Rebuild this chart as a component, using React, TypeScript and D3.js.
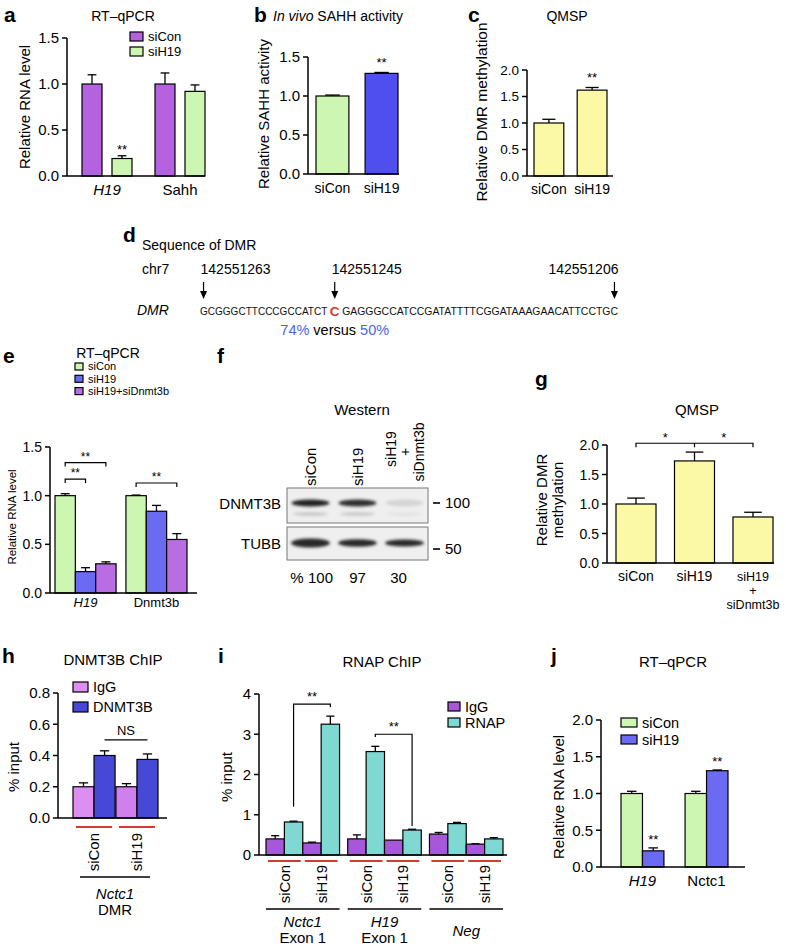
import React from "react";
import * as d3 from "d3";

const FONT = "'Liberation Sans', Arial, Helvetica, sans-serif";

// ---------- Panel a ----------
const aGroups = ["H19", "Sahh"];
const aSeries = ["siCon", "siH19"];
const aValues = [[1.0, 0.19], [1.0, 0.92]];
const aErrors = [[0.1, 0.03], [0.12, 0.07]];
const aTicks = [0, 0.5, 1.0, 1.5];

// ---------- Panel b ----------
const bCats = ["siCon", "siH19"];
const bValues = [1.0, 1.29];
const bErrors = [0.012, 0.012];
const bTicks = [0, 0.5, 1.0, 1.5];

// ---------- Panel c ----------
const cCats = ["siCon", "siH19"];
const cValues = [1.0, 1.62];
const cErrors = [0.07, 0.05];
const cTicks = [0, 0.5, 1.0, 1.5, 2.0];

// ---------- Panel d ----------
const dSeqLeft = "GCGGGCTTCCCGCCATCT";
const dSeqC = "C";
const dSeqRight = "GAGGGCCATCCGATATTTTCGGATAAAGAACATTCCTGC";
const dPositions = ["142551263", "142551245", "142551206"];
const dPercents = ["74%", "50%"];

// ---------- Panel e ----------
const eGroups = ["H19", "Dnmt3b"];
const eSeries = ["siCon", "siH19", "siH19+siDnmt3b"];
const eValues = [[1.0, 0.22, 0.30], [1.0, 0.84, 0.55]];
const eErrors = [[0.02, 0.04, 0.02], [0.006, 0.06, 0.06]];
const eTicks = [0, 0.5, 1.0, 1.5];
const eBrackets = [
  { g: 0, from: 0, to: 2, level: 1.34 },
  { g: 0, from: 0, to: 1, level: 1.17 },
  { g: 1, from: 0, to: 2, level: 1.13 },
];

// ---------- Panel f ----------
const fLanes = ["siCon", "siH19", "combo"];
const fDnmt3bBand = [1.0, 0.97, 0.3];
const fTubbBand = [1.0, 0.85, 0.8];
const fPercent = [100, 97, 30];
const fMarkers = ["100", "50"];

// ---------- Panel g ----------
const gCats = ["siCon", "siH19", "combo"];
const gValues = [1.0, 1.73, 0.78];
const gErrors = [0.1, 0.15, 0.08];
const gTicks = [0, 0.5, 1.0, 1.5, 2.0];

// ---------- Panel h ----------
const hGroups = ["siCon", "siH19"];
const hSeries = ["IgG", "DNMT3B"];
const hValues = [[0.2, 0.4], [0.2, 0.375]];
const hErrors = [[0.025, 0.03], [0.02, 0.035]];
const hTicks = [0, 0.2, 0.4, 0.6, 0.8];

// ---------- Panel i ----------
const iRegions = ["Nctc1", "H19", "Neg"];
const iConds = ["siCon", "siH19"];
const iSeries = ["IgG", "RNAP"];
const iValues = [
  [[0.4, 0.82], [0.3, 3.25]],
  [[0.4, 2.57], [0.37, 0.62]],
  [[0.52, 0.78], [0.27, 0.4]],
];
const iErrors = [
  [[0.08, 0.02], [0.02, 0.2]],
  [[0.1, 0.13], [0.0, 0.02]],
  [[0.04, 0.03], [0.01, 0.03]],
];
const iTicks = [0, 1, 2, 3, 4];

// ---------- Panel j ----------
const jGroups = ["H19", "Nctc1"];
const jSeries = ["siCon", "siH19"];
const jValues = [[1.0, 0.22], [1.0, 1.31]];
const jErrors = [[0.03, 0.04], [0.03, 0.01]];
const jTicks = [0, 0.5, 1.0, 1.5, 2.0];

// ---------- colours ----------
const GREEN = "#ccf6b2";
const PURPLE = "#b462e0";
const BLUE = "#4f4ff0";
const BLUE2 = "#6a6af2";
const YELLOW = "#fcf9a6";
const PINK = "#dc8ff0";
const DBLUE = "#4848d6";
const IPURPLE = "#a658d8";
const TEAL = "#80d8d2";
const RED = "#d23a32";

const f1 = d3.format(".1f");
const f0 = d3.format("d");

function YAxis({ x, y, ticks, fmt, fs = 14, len = 5 }) {
  const [d0, d1] = y.domain();
  return (
    <g>
      <line x1={x} x2={x} y1={y(d0)} y2={y(d1)} stroke="#000" strokeWidth={1.5} />
      {ticks.map((t) => (
        <g key={t}>
          <line x1={x - len} x2={x} y1={y(t)} y2={y(t)} stroke="#000" strokeWidth={1.5} />
          <text x={x - len - 3} y={y(t)} dy="0.36em" textAnchor="end" fontSize={fs}>
            {fmt(t)}
          </text>
        </g>
      ))}
    </g>
  );
}

function XLine({ x1, x2, y }) {
  return <line x1={x1} x2={x2} y1={y} y2={y} stroke="#000" strokeWidth={1.5} />;
}

function Bar({ x, w, y, v, e, fill }) {
  const top = y(v);
  const base = y(0);
  const et = y(v + e);
  const cx = x + w / 2;
  const cw = w * 0.22;
  return (
    <g>
      {e > 0 && (
        <g stroke="#000" strokeWidth={1.3}>
          <line x1={cx} x2={cx} y1={top} y2={et} />
          <line x1={cx - cw} x2={cx + cw} y1={et} y2={et} />
        </g>
      )}
      <rect x={x} y={top} width={w} height={base - top} fill={fill} stroke="#000" strokeWidth={1.2} />
    </g>
  );
}

function Legend({ x, y, items, colors, w, h, gap, fs }) {
  return (
    <g>
      {items.map((it, i) => (
        <g key={it}>
          <rect x={x} y={y + i * gap} width={w} height={h} fill={colors[i]} stroke="#000" strokeWidth={1.2} />
          <text x={x + w + 5} y={y + i * gap + h / 2} dy="0.36em" fontSize={fs}>
            {it}
          </text>
        </g>
      ))}
    </g>
  );
}

function RotLabel({ x, y, children, fs = 14, anchor = "middle", italic = false }) {
  return (
    <text
      transform={`translate(${x},${y}) rotate(-90)`}
      textAnchor={anchor}
      dy="0.36em"
      fontSize={fs}
      fontStyle={italic ? "italic" : "normal"}
    >
      {children}
    </text>
  );
}

function Letter({ x, y, c }) {
  return (
    <text x={x} y={y} fontSize={21} fontWeight="bold">
      {c}
    </text>
  );
}

function Stars({ x, y, s = "**", fs = 13 }) {
  return (
    <text x={x} y={y} textAnchor="middle" fontSize={fs}>
      {s}
    </text>
  );
}

function PanelA() {
  const y = d3.scaleLinear([0, 1.5], [176, 38]);
  const gx = d3.scaleBand(aGroups, [82, 205]).paddingInner(0.315);
  const sx = d3.scaleBand(aSeries, [0, gx.bandwidth()]).paddingInner(0.333);
  const colors = [PURPLE, GREEN];
  return (
    <g>
      <Letter x={4} y={22} c="a" />
      <text x={123} y={21} textAnchor="middle" fontSize={14}>RT–qPCR</text>
      <RotLabel x={25} y={107} fs={15}>Relative RNA level</RotLabel>
      {aGroups.map((g, gi) =>
        aSeries.map((s, si) => (
          <Bar key={g + s} x={gx(g) + sx(s)} w={sx.bandwidth()} y={y} v={aValues[gi][si]} e={aErrors[gi][si]} fill={colors[si]} />
        ))
      )}
      <YAxis x={67} y={y} ticks={aTicks} fmt={f1} fs={15} />
      <XLine x1={67} x2={205} y={y(0)} />
      <Stars x={gx("H19") + sx("siH19") + sx.bandwidth() / 2} y={y(aValues[0][1] + aErrors[0][1]) - 2} />
      {aGroups.map((g, i) => (
        <text key={g} x={gx(g) + gx.bandwidth() / 2} y={195} textAnchor="middle" fontSize={15} fontStyle={i === 0 ? "italic" : "normal"}>
          {g}
        </text>
      ))}
      <Legend x={130} y={32} items={aSeries} colors={colors} w={13} h={9} gap={15} fs={13} />
    </g>
  );
}

function PanelB() {
  const y = d3.scaleLinear([0, 1.5], [174, 57]);
  const x = d3.scaleBand(bCats, [316, 398]).paddingInner(0.33);
  const colors = [GREEN, BLUE];
  return (
    <g>
      <Letter x={254} y={22} c="b" />
      <text x={273} y={21} fontSize={14}>
        <tspan fontStyle="italic">In vivo</tspan> SAHH activity
      </text>
      <RotLabel x={264} y={114} fs={15}>Relative SAHH activity</RotLabel>
      {bCats.map((c, i) => (
        <Bar key={c} x={x(c)} w={x.bandwidth()} y={y} v={bValues[i]} e={bErrors[i]} fill={colors[i]} />
      ))}
      <YAxis x={308} y={y} ticks={bTicks} fmt={f1} fs={15} />
      <XLine x1={308} x2={399} y={y(0)} />
      <Stars x={x("siH19") + x.bandwidth() / 2} y={y(bValues[1] + bErrors[1]) - 5} />
      {bCats.map((c) => (
        <text key={c} x={x(c) + x.bandwidth() / 2} y={193} textAnchor="middle" fontSize={14}>{c}</text>
      ))}
    </g>
  );
}

function PanelC() {
  const y = d3.scaleLinear([0, 2], [176, 70]);
  const x = d3.scaleBand(cCats, [534, 607]).paddingInner(0.31);
  return (
    <g>
      <Letter x={468} y={22} c="c" />
      <text x={567} y={21} textAnchor="middle" fontSize={14}>QMSP</text>
      <RotLabel x={481} y={112} fs={15.5}>Relative DMR methylation</RotLabel>
      {cCats.map((c, i) => (
        <Bar key={c} x={x(c)} w={x.bandwidth()} y={y} v={cValues[i]} e={cErrors[i]} fill={YELLOW} />
      ))}
      <YAxis x={527} y={y} ticks={cTicks} fmt={f1} fs={13.5} />
      <XLine x1={527} x2={613} y={y(0)} />
      <Stars x={x("siH19") + x.bandwidth() / 2} y={y(cValues[1] + cErrors[1]) - 5} />
      {cCats.map((c) => (
        <text key={c} x={x(c) + x.bandwidth() / 2} y={194} textAnchor="middle" fontSize={14}>{c}</text>
      ))}
    </g>
  );
}

function PanelD() {
  const cSlot = 2.1;
  const nL = dSeqLeft.length;
  const nR = dSeqRight.length;
  const total = nL + cSlot + nR;
  const cx = d3.scaleLinear([0, total], [200, 618]);
  const cMid = nL + cSlot / 2;
  const arrowX = [cx(0.5), cx(cMid), cx(total - 0.5)];
  const seqY = 315;
  return (
    <g>
      <Letter x={123} y={242} c="d" />
      <text x={142} y={250} fontSize={14}>Sequence of DMR</text>
      <text x={142} y={274} fontSize={14}>chr7</text>
      {dPositions.map((p, i) => (
        <text key={p} x={i < 2 ? arrowX[i] - 3 : arrowX[i] + 4} y={274} fontSize={14} textAnchor={i < 2 ? "start" : "end"}>
          {p}
        </text>
      ))}
      {arrowX.map((ax, i) => (
        <g key={i}>
          <line x1={ax} x2={ax} y1={282} y2={292} stroke="#000" strokeWidth={1.2} />
          <path d={`M${ax - 3.5},291 L${ax + 3.5},291 L${ax},299 Z`} fill="#000" />
        </g>
      ))}
      <text x={137} y={seqY} fontSize={14} fontStyle="italic">DMR</text>
      <text x={cx(0)} y={seqY} fontSize={10.2} textLength={cx(nL) - cx(0)} lengthAdjust="spacingAndGlyphs" fill="#111">
        {dSeqLeft}
      </text>
      <text x={cx(cMid)} y={seqY + 0.5} fontSize={13.5} fontWeight="bold" textAnchor="middle" fill={RED}>
        {dSeqC}
      </text>
      <text x={cx(nL + cSlot)} y={seqY} fontSize={10.2} textLength={cx(total) - cx(nL + cSlot)} lengthAdjust="spacingAndGlyphs" fill="#111">
        {dSeqRight}
      </text>
      <text x={cx(cMid)} y={335} fontSize={14.5} textAnchor="middle">
        <tspan fill="#4a66e0">{dPercents[0]}</tspan> versus <tspan fill="#4a66e0">{dPercents[1]}</tspan>
      </text>
    </g>
  );
}

function PanelE() {
  const y = d3.scaleLinear([0, 1.5], [593, 447]);
  const gx = d3.scaleBand(eGroups, [55, 187]).paddingInner(0.139);
  const sx = d3.scaleBand(eSeries, [0, gx.bandwidth()]);
  const colors = [GREEN, BLUE2, "#b86ee2"];
  const bc = (g, s) => gx(eGroups[g]) + sx(eSeries[s]) + sx.bandwidth() / 2;
  return (
    <g>
      <Letter x={3} y={363} c="e" />
      <text x={108} y={358} textAnchor="middle" fontSize={14}>RT–qPCR</text>
      <RotLabel x={12} y={517} fs={11.5}>Relative RNA level</RotLabel>
      {eGroups.map((g, gi) =>
        eSeries.map((s, si) => (
          <Bar key={g + s} x={gx(g) + sx(s)} w={sx.bandwidth()} y={y} v={eValues[gi][si]} e={eErrors[gi][si]} fill={colors[si]} />
        ))
      )}
      <YAxis x={50} y={y} ticks={eTicks} fmt={f1} fs={14} />
      <XLine x1={50} x2={197} y={y(0)} />
      {eBrackets.map((b, i) => {
        const x1 = bc(b.g, b.from);
        const x2 = bc(b.g, b.to);
        const yy = y(b.level);
        return (
          <g key={i}>
            <path d={`M${x1},${yy + 4} V${yy} H${x2} V${yy + 4}`} fill="none" stroke="#000" strokeWidth={1.2} />
            <Stars x={(x1 + x2) / 2} y={yy - 2} fs={12} />
          </g>
        );
      })}
      {eGroups.map((g, i) => (
        <text key={g} x={gx(g) + gx.bandwidth() / 2} y={607} textAnchor="middle" fontSize={13} fontStyle={i === 0 ? "italic" : "normal"}>
          {g}
        </text>
      ))}
      <Legend x={75} y={363} items={eSeries} colors={colors} w={8} h={7} gap={12.3} fs={11} />
    </g>
  );
}

function PanelF() {
  const lx = d3.scaleBand(fLanes, [287, 428]).paddingInner(0.12).paddingOuter(0.06);
  const boxX0 = 287;
  const boxX1 = 428;
  const dnmtBox = [488, 523];
  const tubbBox = [527, 560];
  return (
    <g>
      <defs>
        <filter id="blur1" x="-20%" y="-100%" width="140%" height="300%">
          <feGaussianBlur stdDeviation="1.6" />
        </filter>
      </defs>
      <Letter x={217} y={363} c="f" />
      <text x={362} y={415} textAnchor="middle" fontSize={15}>Western</text>
      {fLanes.map((l, i) => {
        const c = lx(l) + lx.bandwidth() / 2;
        if (i < 2)
          return (
            <RotLabel key={l} x={c} y={486} fs={15} anchor="start">
              {l}
            </RotLabel>
          );
        return (
          <text key={l} transform={`translate(${c},452) rotate(-90)`} textAnchor="middle" fontSize={14}>
            <tspan x={3} y={-14} dy="0.36em">siH19</tspan>
            <tspan x={0} y={0} dy="0.36em">+</tspan>
            <tspan x={0} y={14} dy="0.36em">siDnmt3b</tspan>
          </text>
        );
      })}
      <rect x={boxX0} y={dnmtBox[0]} width={boxX1 - boxX0} height={dnmtBox[1] - dnmtBox[0]} fill="#efefef" stroke="#777" strokeWidth={1} />
      <rect x={boxX0} y={tubbBox[0]} width={boxX1 - boxX0} height={tubbBox[1] - tubbBox[0]} fill="#efefef" stroke="#777" strokeWidth={1} />
      <g filter="url(#blur1)">
        {fLanes.map((l, i) => {
          const c = lx(l) + lx.bandwidth() / 2;
          const v = fDnmt3bBand[i];
          return (
            <g key={l}>
              <ellipse cx={c} cy={503} rx={lx.bandwidth() * 0.46} ry={3.6} fill="#222" opacity={Math.pow(v, 1.8)} />
              <ellipse cx={c} cy={514} rx={lx.bandwidth() * 0.42} ry={2} fill="#555" opacity={0.25 * v} />
              <ellipse cx={c} cy={543} rx={lx.bandwidth() * 0.47} ry={4.5 * fTubbBand[i]} fill="#1a1a1a" opacity={0.95} />
            </g>
          );
        })}
      </g>
      <text x={281} y={509} textAnchor="end" fontSize={15}>DNMT3B</text>
      <text x={281} y={549} textAnchor="end" fontSize={15}>TUBB</text>
      {fMarkers.map((m, i) => {
        const yy = i === 0 ? 503 : 549;
        return (
          <g key={m}>
            <line x1={433} x2={440} y1={yy} y2={yy} stroke="#000" strokeWidth={1.6} />
            <text x={445} y={yy} dy="0.36em" fontSize={15}>{m}</text>
          </g>
        );
      })}
      <text x={297} y={583} textAnchor="middle" fontSize={15}>%</text>
      {fLanes.map((l, i) => (
        <text key={l} x={lx(l) + lx.bandwidth() / 2 + (i === 0 ? 10 : i === 2 ? -6 : 0)} y={583} textAnchor="middle" fontSize={15}>
          {fPercent[i]}
        </text>
      ))}
    </g>
  );
}

function PanelG() {
  const y = d3.scaleLinear([0, 2], [563, 445]);
  const x = d3.scaleBand(gCats, [616, 773]).paddingInner(0.316);
  const cc = (c) => x(c) + x.bandwidth() / 2;
  const by = y(2.03);
  return (
    <g>
      <Letter x={535} y={386} c="g" />
      <text x={697} y={415} textAnchor="middle" fontSize={15}>QMSP</text>
      <text transform="translate(550,500) rotate(-90)" textAnchor="middle" fontSize={15}>
        <tspan x={0} y={-8} dy="0.36em">Relative DMR</tspan>
        <tspan x={0} y={8} dy="0.36em">methylation</tspan>
      </text>
      {gCats.map((c, i) => (
        <Bar key={c} x={x(c)} w={x.bandwidth()} y={y} v={gValues[i]} e={gErrors[i]} fill={YELLOW} />
      ))}
      <YAxis x={607} y={y} ticks={gTicks} fmt={f1} fs={14} />
      <XLine x1={607} x2={774} y={y(0)} />
      <path d={`M${cc("siCon")},${by + 4} V${by} H${cc("combo")} V${by + 4} M${cc("siH19")},${by} V${by + 4}`} fill="none" stroke="#000" strokeWidth={1.2} />
      <Stars x={(cc("siCon") + cc("siH19")) / 2} y={by - 1} s="*" fs={13} />
      <Stars x={(cc("siH19") + cc("combo")) / 2} y={by - 1} s="*" fs={13} />
      {gCats.slice(0, 2).map((c) => (
        <text key={c} x={cc(c)} y={581} textAnchor="middle" fontSize={14}>
          {c}
        </text>
      ))}
      <text x={cc("combo")} y={581} textAnchor="middle" fontSize={12.5}>
        <tspan x={cc("combo")} y={581}>siH19</tspan>
        <tspan x={cc("combo")} y={595.2}>+</tspan>
        <tspan x={cc("combo")} y={609.4}>siDnmt3b</tspan>
      </text>
    </g>
  );
}

function PanelH() {
  const y = d3.scaleLinear([0, 0.8], [818, 693]);
  const gx = d3.scaleBand(hGroups, [73, 158]).paddingInner(0.02);
  const sx = d3.scaleBand(hSeries, [0, gx.bandwidth()]);
  const colors = [PINK, DBLUE];
  const ny = y(0.5);
  const nx1 = gx("siCon") + sx("DNMT3B") + sx.bandwidth() / 2;
  const nx2 = gx("siH19") + sx("DNMT3B") + sx.bandwidth() / 2;
  return (
    <g>
      <Letter x={2} y={663} c="h" />
      <text x={113} y={665} textAnchor="middle" fontSize={15}>DNMT3B ChIP</text>
      <RotLabel x={14} y={767} fs={15}>% input</RotLabel>
      {hGroups.map((g, gi) =>
        hSeries.map((s, si) => (
          <Bar key={g + s} x={gx(g) + sx(s)} w={sx.bandwidth()} y={y} v={hValues[gi][si]} e={hErrors[gi][si]} fill={gi === 1 && si === 0 ? "#cf80ec" : colors[si]} />
        ))
      )}
      <YAxis x={58} y={y} ticks={hTicks} fmt={f1} fs={15} />
      <XLine x1={58} x2={167} y={y(0)} />
      <line x1={nx1} x2={nx2} y1={ny} y2={ny} stroke="#000" strokeWidth={1.4} />
      <text x={(nx1 + nx2) / 2} y={ny - 5} textAnchor="middle" fontSize={13}>NS</text>
      {hGroups.map((g) => (
        <g key={g}>
          <line x1={gx(g) + 3} x2={gx(g) + gx.bandwidth() - 3} y1={827} y2={827} stroke={RED} strokeWidth={2} />
          <RotLabel x={gx(g) + gx.bandwidth() / 2} y={833} fs={15} anchor="end">
            {g}
          </RotLabel>
        </g>
      ))}
      <line x1={80} x2={150} y1={877} y2={877} stroke="#000" strokeWidth={1.5} />
      <text x={115} y={899} textAnchor="middle" fontSize={15} fontStyle="italic">Nctc1</text>
      <text x={115} y={915} textAnchor="middle" fontSize={15}>DMR</text>
      <Legend x={73} y={682} items={hSeries} colors={colors} w={15} h={10} gap={20} fs={14.5} />
    </g>
  );
}

function PanelI() {
  const y = d3.scaleLinear([0, 4], [855, 694]);
  const rx = d3.scaleBand(iRegions, [266, 503]).paddingInner(0.1);
  const cxs = d3.scaleBand(iConds, [0, rx.bandwidth()]);
  const sxs = d3.scaleBand(iSeries, [0, cxs.bandwidth()]);
  const colors = [IPURPLE, TEAL];
  const bx = (r, c, s) => rx(iRegions[r]) + cxs(iConds[c]) + sxs(iSeries[s]) + sxs.bandwidth() / 2;
  const brackets = [
    { r: 0, top: 3.75, left: 1.2, right: 3.68 },
    { r: 1, top: 3.0, left: 2.93, right: 0.72 },
  ];
  const regionLabels = [
    ["Nctc1", "Exon 1"],
    ["H19", "Exon 1"],
    ["Neg"],
  ];
  return (
    <g>
      <Letter x={218} y={663} c="i" />
      <text x={382} y={667} textAnchor="middle" fontSize={15}>RNAP ChIP</text>
      <RotLabel x={227} y={777} fs={15}>% input</RotLabel>
      {iRegions.map((r, ri) =>
        iConds.map((c, ci) =>
          iSeries.map((s, si) => (
            <Bar
              key={r + c + s}
              x={rx(r) + cxs(c) + sxs(s)}
              w={sxs.bandwidth()}
              y={y}
              v={iValues[ri][ci][si]}
              e={iErrors[ri][ci][si]}
              fill={colors[si]}
            />
          ))
        )
      )}
      <YAxis x={259} y={y} ticks={iTicks} fmt={f0} fs={15} />
      <XLine x1={259} x2={507} y={y(0)} />
      {brackets.map((b, i) => {
        const x1 = bx(b.r, 0, 1);
        const x2 = bx(b.r, 1, 1);
        return (
          <g key={i}>
            <path d={`M${x1},${y(b.left)} V${y(b.top)} H${x2} V${y(b.right)}`} fill="none" stroke="#000" strokeWidth={1.2} />
            <Stars x={(x1 + x2) / 2} y={y(b.top) - 3} fs={13} />
          </g>
        );
      })}
      {iRegions.map((r, ri) => (
        <g key={r}>
          {iConds.map((c) => (
            <g key={c}>
              <line x1={rx(r) + cxs(c) + 2} x2={rx(r) + cxs(c) + cxs.bandwidth() - 2} y1={861} y2={861} stroke={RED} strokeWidth={2} />
              <RotLabel x={rx(r) + cxs(c) + cxs.bandwidth() / 2} y={865} fs={15} anchor="end">
                {c}
              </RotLabel>
            </g>
          ))}
          <line x1={rx(r)} x2={rx(r) + rx.bandwidth()} y1={909} y2={909} stroke="#000" strokeWidth={1.5} />
          {regionLabels[ri].length === 2 ? (
            <text textAnchor="middle" fontSize={15}>
              <tspan x={rx(r) + rx.bandwidth() / 2} y={927} fontStyle="italic">{regionLabels[ri][0]}</tspan>
              <tspan x={rx(r) + rx.bandwidth() / 2} y={943}>{regionLabels[ri][1]}</tspan>
            </text>
          ) : (
            <text x={rx(r) + rx.bandwidth() / 2} y={936} textAnchor="middle" fontSize={15} fontStyle="italic">
              {regionLabels[ri][0]}
            </text>
          )}
        </g>
      ))}
      <Legend x={448} y={702} items={iSeries} colors={colors} w={12} h={9} gap={16} fs={14.5} />
    </g>
  );
}

function PanelJ() {
  const y = d3.scaleLinear([0, 2], [867, 720]);
  const gx = d3.scaleBand(jGroups, [621, 728]).paddingInner(0.33);
  const sx = d3.scaleBand(jSeries, [0, gx.bandwidth()]);
  const colors = [GREEN, BLUE2];
  return (
    <g>
      <Letter x={551} y={663} c="j" />
      <text x={673} y={667} textAnchor="middle" fontSize={15}>RT–qPCR</text>
      <RotLabel x={559} y={797} fs={15}>Relative RNA level</RotLabel>
      {jGroups.map((g, gi) =>
        jSeries.map((s, si) => (
          <Bar key={g + s} x={gx(g) + sx(s)} w={sx.bandwidth()} y={y} v={jValues[gi][si]} e={jErrors[gi][si]} fill={colors[si]} />
        ))
      )}
      <YAxis x={601} y={y} ticks={jTicks} fmt={f1} fs={15} />
      <XLine x1={601} x2={745} y={y(0)} />
      {jGroups.map((g, gi) => (
        <Stars key={g} x={gx(g) + sx("siH19") + sx.bandwidth() / 2} y={y(jValues[gi][1] + jErrors[gi][1]) - 4} />
      ))}
      {jGroups.map((g, i) => (
        <text key={g} x={gx(g) + gx.bandwidth() / 2} y={886} textAnchor="middle" fontSize={15} fontStyle={i === 0 ? "italic" : "normal"}>
          {g}
        </text>
      ))}
      <Legend x={621} y={718} items={jSeries} colors={colors} w={16} h={9} gap={17} fs={14.5} />
    </g>
  );
}

export default function App() {
  return (
    <svg
      width={786}
      height={946}
      style={{ position: "absolute", left: 0, top: 0, background: "#fff" }}
      fontFamily={FONT}
    >
      <PanelA />
      <PanelB />
      <PanelC />
      <PanelD />
      <PanelE />
      <PanelF />
      <PanelG />
      <PanelH />
      <PanelI />
      <PanelJ />
    </svg>
  );
}
